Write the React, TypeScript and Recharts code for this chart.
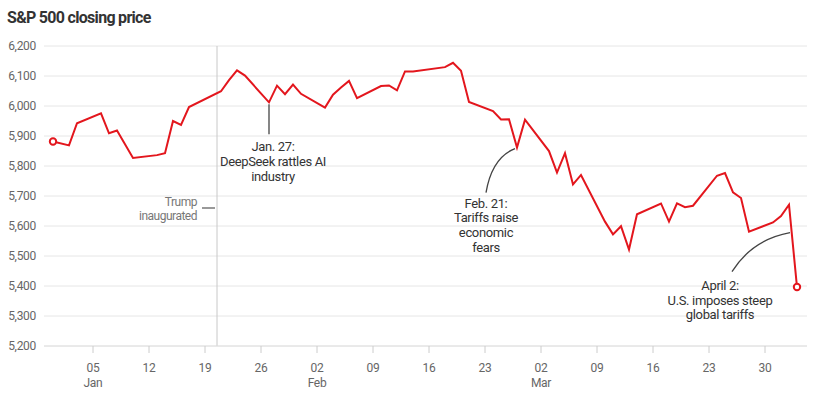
import React from "react";
import {
  LineChart,
  Line,
  XAxis,
  YAxis,
  CartesianGrid,
  ReferenceLine,
  ReferenceDot,
} from "recharts";

// ---- Data ----
const dates: string[] = [
  "2024-12-31",
  "2025-01-02", "2025-01-03", "2025-01-06", "2025-01-07", "2025-01-08",
  "2025-01-10", "2025-01-13", "2025-01-14", "2025-01-15", "2025-01-16", "2025-01-17",
  "2025-01-21", "2025-01-22", "2025-01-23", "2025-01-24",
  "2025-01-27", "2025-01-28", "2025-01-29", "2025-01-30", "2025-01-31",
  "2025-02-03", "2025-02-04", "2025-02-05", "2025-02-06", "2025-02-07",
  "2025-02-10", "2025-02-11", "2025-02-12", "2025-02-13", "2025-02-14",
  "2025-02-18", "2025-02-19", "2025-02-20", "2025-02-21",
  "2025-02-24", "2025-02-25", "2025-02-26", "2025-02-27", "2025-02-28",
  "2025-03-03", "2025-03-04", "2025-03-05", "2025-03-06", "2025-03-07",
  "2025-03-10", "2025-03-11", "2025-03-12", "2025-03-13", "2025-03-14",
  "2025-03-17", "2025-03-18", "2025-03-19", "2025-03-20", "2025-03-21",
  "2025-03-24", "2025-03-25", "2025-03-26", "2025-03-27", "2025-03-28",
  "2025-03-31", "2025-04-01", "2025-04-02", "2025-04-03",
];

const closes: number[] = [
  5881.63,
  5868.55, 5942.47, 5975.38, 5909.03, 5918.25,
  5827.04, 5836.22, 5842.91, 5949.91, 5937.34, 5996.66,
  6049.24, 6086.37, 6118.71, 6101.24,
  6012.28, 6067.7, 6039.31, 6071.17, 6040.53,
  5994.57, 6037.88, 6061.48, 6083.57, 6025.99,
  6066.44, 6068.5, 6051.97, 6115.07, 6114.63,
  6129.58, 6144.15, 6117.52, 6013.13,
  5983.25, 5955.25, 5956.06, 5861.57, 5954.5,
  5849.72, 5778.15, 5842.63, 5738.52, 5770.2,
  5614.56, 5572.07, 5599.3, 5521.52, 5638.94,
  5675.12, 5614.66, 5675.29, 5662.89, 5667.56,
  5767.57, 5776.65, 5712.2, 5693.31, 5580.94,
  5611.85, 5633.07, 5670.97, 5396.52,
];

const tickDates: string[] = [
  "2025-01-05", "2025-01-12", "2025-01-19", "2025-01-26",
  "2025-02-02", "2025-02-09", "2025-02-16", "2025-02-23",
  "2025-03-02", "2025-03-09", "2025-03-16", "2025-03-23", "2025-03-30",
];
const monthTickDates: string[] = ["2025-01-05", "2025-02-02", "2025-03-02"];
const monthNames: string[] = ["Jan", "Feb", "Mar", "Apr", "May", "Jun", "Jul", "Aug", "Sep", "Oct", "Nov", "Dec"];

const yTicks: number[] = [5200, 5300, 5400, 5500, 5600, 5700, 5800, 5900, 6000, 6100, 6200];

const inaugurationDate = "2025-01-20";
const inaugurationHour = 12;

const annotationDates: string[] = ["2025-01-27", "2025-02-27", "2025-04-02"];
const annotationTexts: string[][] = [
  ["Jan. 27:", "DeepSeek rattles AI", "industry"],
  ["Feb. 21:", "Tariffs raise", "economic", "fears"],
  ["April 2:", "U.S. imposes steep", "global tariffs"],
];

// ---- helpers ----
const DAY = 86400000;
const BASE = Date.UTC(2024, 11, 31);
const toDay = (s: string) => {
  const [y, m, d] = s.split("-").map(Number);
  return (Date.UTC(y, m - 1, d) - BASE) / DAY;
};

const data = dates.map((d, i) => ({ day: toDay(d), close: closes[i] }));
const tickDays = tickDates.map(toDay);
const monthTickDays = monthTickDates.map(toDay);
const inaugurationDay = toDay(inaugurationDate) + inaugurationHour / 24;

const RED = "#e3161d";
const FONT = "Roboto, 'Liberation Sans', sans-serif";
const TICK_COLOR = "#666";

// layout for annotations (relative to the annotated point)
const annotationLayout = [
  {
    path: (cx: number, cy: number) => `M${cx},${cy + 2} L${cx},${cy + 32}`,
    tx: 4,
    ty: 49,
  },
  {
    path: (cx: number, cy: number) =>
      `M${cx - 31},${cy + 45} Q${cx - 25},${cy + 10} ${cx - 2},${cy + 1}`,
    tx: -31,
    ty: 60,
  },
  {
    path: (cx: number, cy: number) =>
      `M${cx - 57},${cy + 67} Q${cx - 37},${cy + 35} ${cx + 1},${cy + 28}`,
    tx: -69,
    ty: 85,
  },
];

const XTick = (props: any) => {
  const { x, y, payload } = props;
  const v = payload.value;
  const dt = new Date(BASE + v * DAY);
  const dd = String(dt.getUTCDate()).padStart(2, "0");
  const isMonth = monthTickDays.includes(v);
  return (
    <g>
      <text x={x} y={y + 17} textAnchor="middle" fill={TICK_COLOR} fontSize={12} fontFamily={FONT} letterSpacing={-0.3}>
        {dd}
      </text>
      {isMonth && (
        <text x={x} y={y + 32} textAnchor="middle" fill={TICK_COLOR} fontSize={12} fontFamily={FONT} letterSpacing={-0.3}>
          {monthNames[dt.getUTCMonth()]}
        </text>
      )}
    </g>
  );
};

const makeAnnotationShape = (idx: number) => (props: any) => {
  const { cx, cy } = props;
  const lay = annotationLayout[idx];
  const lines = annotationTexts[idx];
  return (
    <g>
      <path d={lay.path(cx, cy)} fill="none" stroke="#444" strokeWidth={1.3} />
      {lines.map((ln, i) => (
        <text
          key={i}
          x={cx + lay.tx}
          y={cy + lay.ty + i * 14.8}
          textAnchor="middle"
          fill="#333"
          fontSize={13}
          fontFamily={FONT}
          letterSpacing={-0.35}
        >
          {ln}
        </text>
      ))}
    </g>
  );
};

const InaugurationLabel = (props: any) => {
  const vb = props.viewBox || {};
  const x = vb.x;
  const y = vb.y;
  return (
    <g>
      <line x1={x - 15} x2={x - 2} y1={y + 162} y2={y + 162} stroke="#777" strokeWidth={1.5} />
      <text x={x - 20} y={y + 159.5} textAnchor="end" fill="#777" fontSize={12} fontFamily={FONT} letterSpacing={-0.5}>
        Trump
      </text>
      <text x={x - 20} y={y + 173.5} textAnchor="end" fill="#777" fontSize={12} fontFamily={FONT} letterSpacing={-0.5}>
        inaugurated
      </text>
    </g>
  );
};

const lastIndex = closes.length - 1;

export default function App() {
  return (
    <div style={{ position: "absolute", left: 0, top: 0, width: 828, height: 398, background: "#fff" }}>
      <svg width={828} height={40} style={{ position: "absolute", left: 0, top: 0 }}>
        <text x={7} y={22.7} fontSize={16} fontWeight={700} fill="#333" fontFamily={FONT} letterSpacing={-0.7}>
          S&amp;P 500 closing price
        </text>
      </svg>
      <div style={{ position: "absolute", left: 0, top: 0 }}>
        <LineChart width={828} height={398} data={data} margin={{ top: 46, right: 21, bottom: 0, left: 0 }}>
          <CartesianGrid vertical={false} stroke="#e6e6e6" />
          <XAxis
            dataKey="day"
            type="number"
            domain={[-1.125, 94.25]}
            ticks={tickDays}
            interval={0}
            height={52}
            tickSize={7}
            tickMargin={2}
            axisLine={{ stroke: "#e0e0e0" }}
            tickLine={{ stroke: "#cccccc" }}
            tick={<XTick />}
          />
          <YAxis
            type="number"
            domain={[5200, 6200]}
            ticks={yTicks}
            interval={0}
            width={44}
            axisLine={false}
            tickLine={false}
            tickFormatter={(v: number) => v.toLocaleString("en-US")}
            tick={{ fill: TICK_COLOR, fontSize: 12, fontFamily: FONT, letterSpacing: -0.3 }}
          />
          <ReferenceLine
            x={inaugurationDay}
            stroke="#c8c8c8"
            strokeWidth={1}
            label={(p: any) => <InaugurationLabel {...p} />}
          />
          <Line
            type="linear"
            dataKey="close"
            stroke={RED}
            strokeWidth={2}
            isAnimationActive={false}
            activeDot={false}
            dot={(p: any) =>
              p.index === 0 || p.index === lastIndex ? (
                <circle key={`d${p.index}`} cx={p.cx} cy={p.cy} r={3.2} fill="#fff" stroke={RED} strokeWidth={2} />
              ) : (
                <g key={`d${p.index}`} />
              )
            }
          />
          {annotationDates.map((d, i) => (
            <ReferenceDot
              key={d}
              x={toDay(d)}
              y={closes[dates.indexOf(d)]}
              r={0}
              shape={makeAnnotationShape(i)}
            />
          ))}
        </LineChart>
      </div>
    </div>
  );
}
